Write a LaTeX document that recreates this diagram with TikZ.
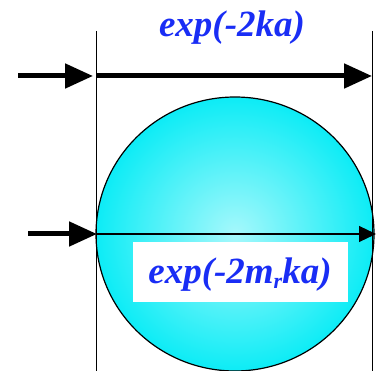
\documentclass[tikz,border=0pt]{standalone}
\usepackage{fontspec}
\setmainfont{Liberation Serif}
\usetikzlibrary{arrows.meta}
\definecolor{lblblue}{RGB}{25,45,245}
\definecolor{ballcyan}{RGB}{0,235,245}
\tikzset{
  thickarrow/.style={line width=5pt,-{Triangle[length=28pt,width=24pt]}},
  thinarrow/.style={line width=1.2pt,-{Triangle[length=17pt,width=16pt]}},
  guide/.style={line width=1pt},
  lbl/.style={text=lblblue,font=\fontsize{37}{40}\selectfont\bfseries\itshape,inner sep=0pt}
}
\begin{document}
\begin{tikzpicture}[x=1pt,y=-1pt]
\useasboundingbox (0,0) rectangle (377,371);
% circle
\begin{scope}
\clip (0,0) rectangle (377,371);
\shade[inner color=ballcyan!35,outer color=ballcyan!95] (235,234) ellipse [x radius=139,y radius=137];
\draw[line width=1.2pt] (235,234) ellipse [x radius=139,y radius=137];
\end{scope}
% white box
\fill[white] (133,242) rectangle (348,302);
% vertical guides
\draw[guide] (96,31) -- (96,371);
\draw[guide] (372,31) -- (372,371);
% coordinates
\coordinate (a1) at (18,76);
\coordinate (a2) at (93,76);
\coordinate (a3) at (97,76);
\coordinate (a4) at (372,76);
\coordinate (b1) at (28,234);
\coordinate (b2) at (97,234);
\coordinate (b3) at (97,234);
\coordinate (b4) at (376,234);
\draw[thickarrow] (a1) -- (a2);
\draw[thickarrow] (a3) -- (a4);
\draw[thickarrow] (b1) -- (b2);
\draw[thinarrow] (b3) -- (b4);
% labels
\node[lbl] (t1) at (232,28) {exp(-2ka)};
\node[lbl] (t2) at (240,275) {exp(-2m\raisebox{-5pt}{\fontsize{22}{24}\selectfont r}ka)};
\end{tikzpicture}
\end{document}
